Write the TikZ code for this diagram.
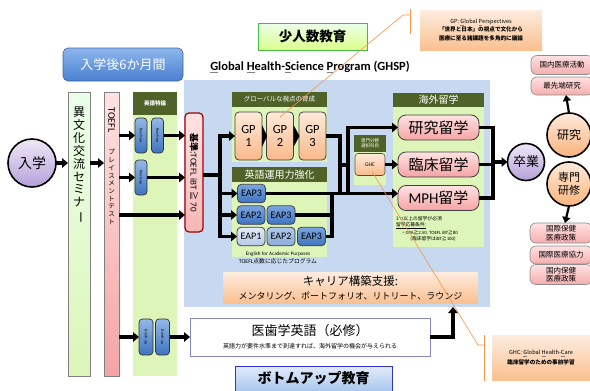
\documentclass[tikz,border=0pt]{standalone}
\usepackage{fontspec}
\usepackage{graphicx}
\setmainfont{Noto Sans CJK JP}
\newfontfamily\lat{Carlito}
\usetikzlibrary{arrows.meta}
\newcommand\fsz[2]{\fontsize{#1}{#2}\selectfont}
\newcommand\gu[1]{\textcolor{gray}{\underline{\textcolor{black}{#1}}}}
\definecolor{bgblue}{HTML}{C6D9F0}
\definecolor{olivehd}{HTML}{4F6228}
\definecolor{lgreen}{HTML}{DDF5B8}
\definecolor{gptop}{HTML}{FEEADB}
\definecolor{gpbot}{HTML}{F9B98A}
\definecolor{eaptop}{HTML}{7AA6E0}
\definecolor{eapbot}{HTML}{3F73C0}
\definecolor{eap1top}{HTML}{E4ECF8}
\definecolor{eap1bot}{HTML}{B4C9E8}
\definecolor{pktop}{HTML}{FFE2E2}
\definecolor{pkbot}{HTML}{F4A4A4}
\definecolor{ortop}{HTML}{FDECDF}
\definecolor{orbot}{HTML}{FAC090}
\definecolor{pptop}{HTML}{F0E8F8}
\definecolor{ppbot}{HTML}{B5A0D8}
\definecolor{calloutc}{HTML}{F79646}
\definecolor{sixtop}{HTML}{8DB6EC}
\definecolor{sixbot}{HTML}{4A80D0}
\definecolor{butop}{HTML}{E2ECFA}
\definecolor{bubot}{HTML}{A8C6EE}
\tikzset{
  every node/.style={inner sep=0pt, outer sep=0pt},
  ln/.style={line width=3.2pt, draw=black},
  arr/.style={line width=3.2pt, draw=black, -{Triangle[length=6pt,width=9.5pt]}},
  arrthin/.style={line width=2.2pt, draw=black, -{Triangle[length=6pt,width=8pt]}},
  callout/.style={draw=calloutc, line width=0.6pt},
  hdr/.style={rectangle, fill=olivehd, text=white},
  gbg/.style={rectangle, fill=lgreen},
  gpbox/.style={rectangle, rounded corners=4pt, draw=black!75, line width=0.8pt, top color=gptop, bottom color=gpbot, minimum width=27pt, minimum height=48pt, align=center, font=\lat\fsz{12.5}{13.5}},
  eap/.style={rectangle, rounded corners=4pt, draw=black!75, line width=0.8pt, top color=eaptop, bottom color=eapbot, minimum width=28pt, minimum height=18.5pt, font=\lat\fsz{10}{11}},
  eapl/.style={eap, top color=eap1top, bottom color=eap1bot},
  pill/.style={rectangle, rounded corners=3.5pt, draw=black!80, line width=0.7pt, top color=eaptop!80!white, bottom color=eapbot, minimum width=12pt, minimum height=35pt},
  ryu/.style={rectangle, rounded corners=8pt, draw=black!75, line width=0.8pt, top color=pktop, bottom color=pkbot, minimum width=81pt, minimum height=25pt, font=\fsz{15}{16}},
  rbox/.style={rectangle, rounded corners=6pt, draw=black!45, line width=0.6pt, top color=pktop, bottom color=pkbot!90!white, minimum width=62pt, align=center, font=\fsz{7.5}{8.5}},
  purp/.style={circle, draw=black, line width=1.6pt, top color=pptop, bottom color=ppbot, align=center},
  orc/.style={circle, draw=black, line width=1.6pt, top color=gptop, bottom color=gpbot!90!orange, align=center},
  note/.style={rectangle, top color=ortop, bottom color=orbot, align=center},
}
\begin{document}
\begin{tikzpicture}[x=1pt,y=-1pt]
\useasboundingbox (0,0) rectangle (590,391);
\fill[white] (0,0) rectangle (590,391);

% big blue background
\node[rectangle, fill=bgblue, minimum width=306pt, minimum height=227pt] (bb) at (337,193.5) {};

% top labels
\node[rectangle, rounded corners=5pt, draw=sixbot!80!black, line width=0.6pt, top color=sixtop, bottom color=sixbot, minimum width=120pt, minimum height=33pt, text=white, font=\fsz{13}{14}] (six) at (123,64.5) {入学後6か月間};
\node[rectangle, draw=green!45!gray, line width=0.6pt, top color=green!8!white, bottom color=green!30!yellow!45!white, minimum width=109pt, minimum height=27pt, font=\bfseries\fsz{13.5}{14}] (shou) at (312.5,36.5) {少人数教育};
\node[font=\lat\bfseries\fsz{12.5}{14}] (title) at (310,67) {\gu{G}lobal \gu{H}ealth-\gu{S}cience \gu{P}rogram (GHSP)};

% notes
\node[note, minimum width=122pt, minimum height=40pt, font=\fsz{5.6}{8.5}] (gpnote) at (481,30) {GP: \gu{G}lobal \gu{P}erspectives\\\textbf{「世界と日本」の視点で文化から}\\\textbf{医療に至る諸課題を多角的に議論}};
\node[note, minimum width=98pt, minimum height=45pt, font=\fsz{5.6}{9.5}] (ghcnote) at (541,357.5) {GHC: \gu{G}lobal \gu{H}ealth-\gu{C}are\\\textbf{臨床留学のための事前学習}};

% entry circle
\node[purp, minimum size=48pt, font=\fsz{14}{15}] (entry) at (32,163) {入学};

% column 1
\node[rectangle, draw=black!50, line width=0.8pt, top color=green!8!white, bottom color=lgreen, minimum width=22pt, minimum height=284pt] (col1) at (79,234) {};
\node[align=center, font=\fsz{12}{12.9}] at (79,165) {異\\文\\化\\交\\流\\セ\\ミ\\ナ\\\rotatebox[origin=c]{-90}{ー}};

% column 2
\node[rectangle, draw=black!50, line width=0.8pt, top color=pktop, bottom color=pkbot, minimum width=15pt, minimum height=284pt] (col2) at (111.5,234) {};
\node[rotate=-90, font=\lat\fsz{10}{11}] at (111.5,120) {TOEFL};
\node[align=center, font=\fsz{6.5}{7.7}] at (111.5,187) {プ\\レ\\イ\\ス\\メ\\ン\\ト\\テ\\ス\\ト};

% column 3
\node[gbg, minimum width=44pt, minimum height=284pt] (col3) at (155,234) {};
\node[hdr, minimum width=44pt, minimum height=23pt, font=\bfseries\fsz{5.5}{6}] (h3) at (155,103.5) {英語特論};
\node[pill] (p1a) at (141,135.5) {};
\node[pill] (p1b) at (157.5,135.5) {};
\node[pill] (p2) at (141,177.5) {};
\node[pill, minimum width=14pt, minimum height=36pt] (p3a) at (146,337) {};
\node[pill, minimum width=14pt, minimum height=36pt] (p3b) at (162.5,337) {};
\foreach \p in {p1a,p1b,p2,p3a,p3b}{\node[rotate=-90, font=\lat\fsz{3.8}{4}] at (\p) {Brush-up};}

% criterion box
\node[rectangle, rounded corners=4pt, draw=red!65!black, line width=1.2pt, top color=pktop, bottom color=pkbot!80!white, minimum width=18pt, minimum height=119pt] (kijun) at (194,172.5) {};
\node[rotate=-90, font=\fsz{9}{10}] at (kijun) {\textbf{基準}:{\lat TOEFL iBT} ≧ {\lat 70}};

% GP section
\node[hdr, minimum width=95pt, minimum height=15pt, font=\fsz{6.5}{7}] (hgp) at (279.5,99.5) {グローバルな視点の育成};
\node[gbg, minimum width=95pt, minimum height=55pt] (gpbg) at (279.5,134.5) {};
\node[gpbox] (gp1) at (248.5,136) {GP\\1};
\node[gpbox] (gp2) at (280,136) {GP\\2};
\node[gpbox] (gp3) at (312.5,136) {GP\\3};
\fill ([yshift=11pt]gp1.east) -- ([xshift=5pt]gp1.east) -- ([yshift=-11pt]gp1.east) -- cycle;
\fill ([yshift=11pt]gp2.east) -- ([xshift=6pt]gp2.east) -- ([yshift=-11pt]gp2.east) -- cycle;

% EAP section
\node[hdr, minimum width=95pt, minimum height=15pt, font=\fsz{10}{11}] (heap) at (279.5,174.5) {英語運用力強化};
\node[gbg, minimum width=95pt, minimum height=75pt] (eapbg) at (279.5,219.5) {};
\node[eap] (e13) at (251.5,193.5) {EAP3};
\node[eap] (e22) at (251,215) {EAP2};
\node[eap] (e23) at (281,215) {EAP3};
\node[eapl] (e31) at (251,236.5) {EAP1};
\node[eap, top color=eaptop!60!white, bottom color=eapbot!60!white] (e32) at (281,236.5) {EAP2};
\node[eap] (e33) at (311.5,236.5) {EAP3};
\node[font=\lat\fsz{5.2}{6}] (eaptxt) at (278,254) {English for Academic Purposes};
\node[font=\fsz{5.8}{6}] (eaptxt2) at (278,261) {{\lat TOEFL}点数に応じたプログラム};

% overseas study section
\node[hdr, minimum width=91pt, minimum height=15pt, font=\fsz{10}{11}] (hos) at (438.5,100) {海外留学};
\node[gbg, minimum width=91pt, minimum height=140pt] (osbg) at (438.5,177) {};
\node[ryu] (kenkyu) at (438.5,127.5) {研究留学};
\node[ryu] (rinsho) at (438.5,164.5) {臨床留学};
\node[ryu] (mph) at (438.5,198) {{\lat MPH}留学};
\node[anchor=north west, align=left, font=\fsz{4.8}{6}] (osnote) at (396,216.5) {1つ以上の留学が必須\\\underline{留学応募条件:}\\\quad ・{\lat GPA}≧{\lat 2.50, TOEFL iBT}≧{\lat 80}\\\qquad\quad (臨床留学は{\lat iBT}≧{\lat 100})};

% GHC section
\node[hdr, minimum width=32pt, minimum height=17pt, align=center, font=\fsz{4.5}{5.5}] (hghc) at (370,143.5) {専門分野\\選択科目};
\node[gbg, minimum width=32pt, minimum height=33pt] (ghcbg) at (370,168.5) {};
\node[rectangle, rounded corners=3pt, draw=black!70, line width=0.6pt, top color=gptop, bottom color=gpbot, minimum width=30pt, minimum height=22pt, font=\lat\fsz{5.5}{6}] (ghc) at (370,164.5) {GHC};

% career & medical english & bottom-up
\node[rectangle, top color=ortop, bottom color=orbot, minimum width=255pt, minimum height=31pt, align=center, font=\fsz{11.5}{14}] (career) at (350.5,287.5) {キャリア構築支援:\\{\fsz{9}{12}メンタリング、ポートフォリオ、リトリート、ラウンジ}};
\node[rectangle, draw=blue!35!gray!70, line width=0.8pt, fill=white, minimum width=240pt, minimum height=38pt, align=center, font=\fsz{13}{15}] (med) at (310,337) {医歯学英語（必修）\\[-2pt]{\fsz{6}{7}英語力が要件水準まで到達すれば、海外留学の機会が与えられる}};
\node[rectangle, draw=blue!60!gray, line width=0.8pt, top color=butop, bottom color=bubot, minimum width=157pt, minimum height=25pt, font=\bfseries\fsz{14}{15}] (bu) at (313.5,378.5) {ボトムアップ教育};

% graduation & careers
\node[purp, minimum size=37pt, font=\fsz{13}{14}] (sotsu) at (526,162) {卒業};
\node[orc, minimum size=44pt, font=\fsz{12}{13}] (kenq) at (569,135) {研究};
\node[orc, minimum size=44pt, font=\fsz{11}{12.5}] (senmon) at (569,184) {専門\\研修};
\node[rbox, minimum height=19pt] (r1) at (562,65) {国内医療活動};
\node[rbox, minimum height=18pt] (r2) at (562,86) {最先端研究};
\node[rbox, minimum height=20pt] (r3) at (561,233) {国際保健\\医療政策};
\node[rbox, minimum height=18pt] (r4) at (561,255) {国際医療協力};
\node[rbox, minimum height=20pt] (r5) at (561,274.5) {国内保健\\医療政策};

% ---------- connectors ----------
\draw[arr] (entry.east) -- (col1.west |- entry);
\draw[arr] (col1.east |- entry) -- (col2.west |- entry);
\draw[arr] (col2.east |- p1a) -- (p1a.west);
\draw[arr] (p1b.east) -- (kijun.west |- p1b);
\draw[arr] (col2.east |- p2) -- (p2.west);
\draw[arr] (p2.east) -- (kijun.west |- p2);
\coordinate (r3y) at (0,215);
\draw[arr] (col2.east |- r3y) -- (kijun.west |- r3y);
\draw[arr] (col2.east |- p3a) -- (p3a.west);
\draw[arr] (p3b.east) -- (med.west |- p3b);

% trunk from criterion
\coordinate (tk) at (220,175);
\draw[ln] (kijun.east |- tk) -- (tk);
\draw[arr] (tk |- e31) -- (tk |- gp1) -- (gp1.west);
\draw[arr] (tk |- gp1) -- (tk |- e31) -- (e31.west);
\draw[arr] (tk |- e13) -- (e13.west);
\draw[arr] (tk |- e22) -- (e22.west);

% to overseas study
\coordinate (j1) at (340,136);
\coordinate (j2) at (332,215);
\coordinate (tr) at (348,165);
\draw[ln] (gp3.east) -- (j1) -- (j1 |- e13);
\draw[arr] (e13.east) -- (mph.west |- e13);
\draw[ln] (e23.east) -- (j2);
\draw[ln] (e33.east) -- (j2 |- e33) -- (j2 |- e13);
\draw[ln] (j1 |- tr) -- (tr);
\draw[arr] (tr |- e13) -- (tr |- kenkyu) -- (kenkyu.west);
\draw[arr] (ghc.east) -- (rinsho.west |- ghc);

% to graduation
\coordinate (gx) at (493,162);
\draw[ln] (kenkyu.east) -- (gx |- kenkyu) -- (gx |- mph) -- (mph.east);
\draw[ln] (rinsho.east) -- (gx |- rinsho);
\draw[arr] (gx |- sotsu) -- (sotsu.west);
\draw[arrthin] (kenq.north) -- ([xshift=-3pt]kenq.north |- r2.south);
\draw[arrthin] (senmon.south) -- ([xshift=-4pt]senmon.south |- r3.north);

% medical english to GHSP
\coordinate (mx) at (453,337);
\draw[arr] (med.east) -- (mx) -- (mx |- bb.south);

% callouts
\coordinate (c1) at (403,15);
\draw[callout] ([yshift=-5pt]gp2.north) -- (c1) -- (410,15);
\draw[callout] (410,9) -- (410,34);
\coordinate (c2) at (478,345);
\draw[callout] ([xshift=2pt,yshift=-7pt]ghc.center) -- (c2) -- (484,345);
\draw[callout] (484,335) -- (484,381);
\end{tikzpicture}
\end{document}
